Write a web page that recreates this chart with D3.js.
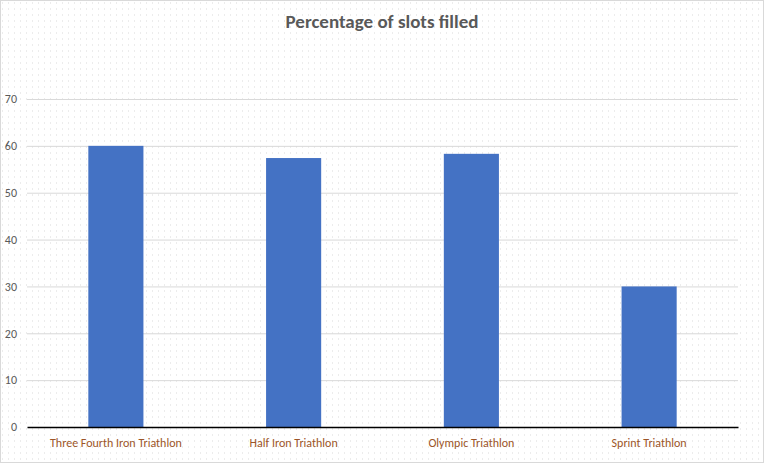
<!DOCTYPE html>
<html><head><meta charset="utf-8">
<script src="https://cdn.jsdelivr.net/npm/d3@7"></script>
<style>body{margin:0;background:#fff}</style>
</head><body>
<svg id="c" width="765" height="464"></svg>
<script>
const categories = ["Three Fourth Iron Triathlon","Half Iron Triathlon","Olympic Triathlon","Sprint Triathlon"];
const values = [60, 57.4, 58.3, 30];
const yTicks = [0,10,20,30,40,50,60,70];
const title = "Percentage of slots filled";

(function(){
const svg = d3.select("#c");
const defs = svg.append("defs");
const pat = defs.append("pattern").attr("id","dots").attr("width",6).attr("height",6).attr("patternUnits","userSpaceOnUse");
pat.append("rect").attr("width",6).attr("height",6).attr("fill","#fff");
pat.append("rect").attr("x",2).attr("y",2).attr("width",1).attr("height",2).attr("fill","#ececec");
svg.append("rect").attr("x",0.5).attr("y",0.5).attr("width",763).attr("height",462)
  .attr("fill","url(#dots)").attr("stroke","#d9d9d9");

const pLeft=27, pRight=738, pTop=99, pBottom=427;
const x = d3.scaleBand().domain(categories).range([pLeft,pRight]).paddingInner(0.69).paddingOuter(0.345);
const y = d3.scaleLinear().domain([0,70]).range([pBottom,pTop]);
const font = "Carlito, Calibri, 'Open Sans', Lato, sans-serif";

svg.append("g").selectAll("line").data(yTicks.filter(d=>d>0)).join("line")
  .attr("x1",pLeft).attr("x2",pRight).attr("y1",d=>y(d)+0.5).attr("y2",d=>y(d)+0.5)
  .attr("stroke","#d9d9d9").attr("stroke-width",1);

const yAxis = svg.append("g").attr("transform",`translate(${pLeft},0)`)
  .call(d3.axisLeft(y).tickValues(yTicks).tickSize(0).tickPadding(10));
yAxis.select(".domain").remove();
yAxis.selectAll("text").attr("font-family",font).attr("font-size","12px").attr("fill","#595959");

svg.append("g").selectAll("rect").data(values).join("rect")
  .attr("x",(d,i)=>x(categories[i])).attr("width",x.bandwidth())
  .attr("y",d=>y(d)).attr("height",d=>pBottom-y(d)).attr("fill","#4472c4");

const xAxis = svg.append("g").attr("transform",`translate(0,${pBottom})`)
  .call(d3.axisBottom(x).tickSize(0).tickPadding(11.5));
xAxis.select(".domain").attr("stroke","#000").attr("stroke-width",1.5);
xAxis.selectAll("text").attr("font-family",font).attr("font-size","12px").attr("fill","#9c5528");

svg.append("text").attr("x",382).attr("y",28).attr("text-anchor","middle")
  .attr("font-family",font).attr("font-weight","bold").attr("font-size","19px").attr("fill","#595959")
  .text(title);
})();
</script>
</body></html>
